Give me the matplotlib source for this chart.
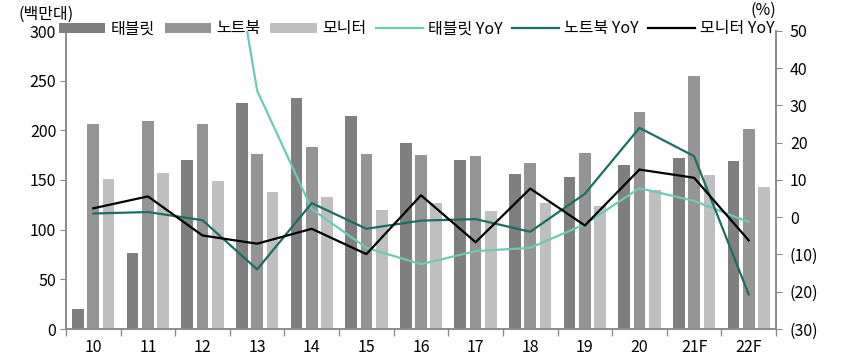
import matplotlib
matplotlib.use("Agg")
import matplotlib.pyplot as plt
import numpy as np

plt.rcParams['font.family'] = ['Noto Sans CJK KR', 'DejaVu Sans']

# --- podaci ---
godine = ["10", "11", "12", "13", "14", "15", "16", "17", "18", "19", "20", "21F", "22F"]
tablet = [20, 77, 170, 228, 233, 214, 187, 170, 156, 153, 165, 172, 169]
notebook = [206, 209, 206, 176, 183, 176, 175, 174, 167, 177, 218, 255, 201]
monitor = [151, 157, 149, 138, 133, 120, 127, 119, 127, 124, 140, 155, 143]
tablet_yoy = [np.nan, 285, 121, 34, 2.2, -8.2, -12.6, -9.1, -8.2, -1.9, 7.8, 4.4, -1.3]
notebook_yoy = [1.0, 1.4, -0.8, -14.0, 3.8, -3.1, -0.9, -0.5, -3.9, 6.3, 24.0, 16.4, -20.7]
monitor_yoy = [2.4, 5.6, -4.9, -7.1, -3.1, -9.9, 5.9, -6.7, 7.7, -2.2, 12.8, 10.6, -6.2]

C_TAB = "#7f7f7f"
C_NB = "#959595"
C_MON = "#bfbfbf"
C_TAB_L = "#6ccab5"
C_NB_L = "#1b6e62"
C_MON_L = "#000000"
SIVA = "#8c8c8c"

fig = plt.figure(figsize=(8.43, 3.6), dpi=100)
ax = fig.add_axes([66 / 843, 31 / 360, 710 / 843, 298 / 360])
ax2 = ax.twinx()

x = np.arange(len(godine))
w = 0.214
off = 0.28
b1 = ax.bar(x - off, tablet, w, color=C_TAB, label="태블릿")
b2 = ax.bar(x, notebook, w, color=C_NB, label="노트북")
b3 = ax.bar(x + off, monitor, w, color=C_MON, label="모니터")

l1, = ax2.plot(x, tablet_yoy, color=C_TAB_L, lw=1.6, label="태블릿 YoY")
l2, = ax2.plot(x, notebook_yoy, color=C_NB_L, lw=1.6, label="노트북 YoY")
l3, = ax2.plot(x, monitor_yoy, color=C_MON_L, lw=1.6, label="모니터 YoY")

ax.set_xlim(-0.5, len(godine) - 0.5)
ax.set_ylim(0, 300)
ax.set_yticks(range(0, 301, 50))
ax2.set_ylim(-30, 50)
ax2.set_yticks(range(-30, 51, 10))
ax2.set_yticklabels([f"({abs(v)})" if v < 0 else str(v) for v in range(-30, 51, 10)])

# x ticks izmedju kategorija, labele u sredini
ax.set_xticks(np.arange(-0.5, len(godine), 1))
ax.set_xticklabels([])
ax.set_xticks(x, minor=True)
ax.set_xticklabels(godine, minor=True)
ax.tick_params(axis="x", which="minor", length=0, labelsize=11.5, pad=7)
ax.tick_params(axis="x", which="major", length=5, color=SIVA, width=1)
ax.tick_params(axis="y", length=4, color=SIVA, labelsize=11.5, pad=3)
ax2.tick_params(axis="y", length=4, color=SIVA, labelsize=11.5, pad=6)

for a in (ax, ax2):
    a.spines["top"].set_visible(False)
    for s in ("left", "right", "bottom"):
        a.spines[s].set_color(SIVA)
        a.spines[s].set_linewidth(1.2)

fig.text(18 / 843, 1 - 14 / 360, "(백만대)", fontsize=11.5, va="center", ha="left")
fig.text(763 / 843, 1 - 10 / 360, "(%)", fontsize=11.5, va="center", ha="center")

ruke = [b1, b2, b3, l1, l2, l3]
ax2.legend(ruke, [r.get_label() for r in ruke], ncol=6, frameon=False,
           loc="center left", bbox_to_anchor=(59 / 843, 1 - 29 / 360),
           bbox_transform=fig.transFigure, fontsize=11.5,
           handlelength=2.9, handleheight=0.6, handletextpad=0.35,
           columnspacing=0.6, borderpad=0, borderaxespad=0)

fig.savefig("out.png", dpi=100)
